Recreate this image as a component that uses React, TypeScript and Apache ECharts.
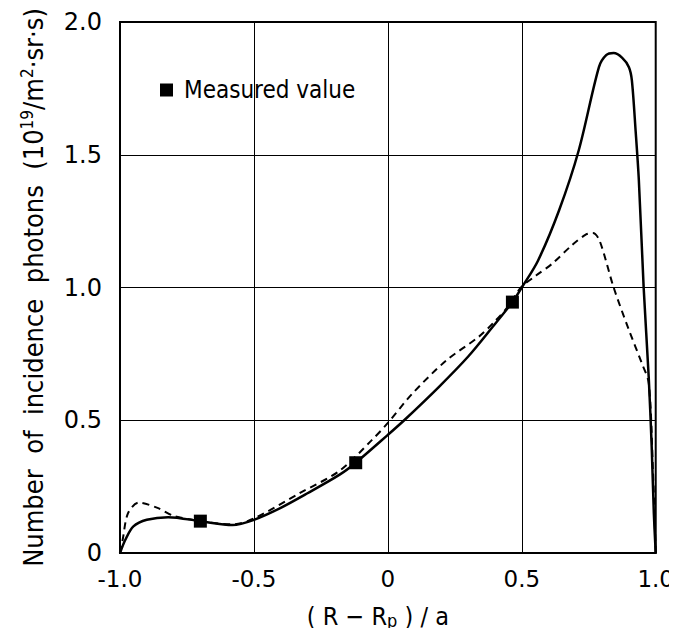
import React, { useEffect, useRef } from "react";
import * as echarts from "echarts";

const xTicks = [-1.0, -0.5, 0, 0.5, 1.0];
const yTicks = [0, 0.5, 1.0, 1.5, 2.0];

const solidCurve: [number, number][] = [
  [-1.0, 0.0], [-0.98, 0.05], [-0.95, 0.1], [-0.9, 0.125], [-0.82, 0.135],
  [-0.7, 0.12], [-0.58, 0.105], [-0.5, 0.125], [-0.4, 0.17], [-0.3, 0.225],
  [-0.18, 0.295], [-0.12, 0.34], [0.0, 0.445], [0.061, 0.5], [0.19, 0.625],
  [0.3, 0.74], [0.39, 0.85], [0.465, 0.945], [0.5, 1.0], [0.56, 1.1],
  [0.639, 1.29], [0.713, 1.518], [0.788, 1.83], [0.815, 1.875], [0.843, 1.883],
  [0.875, 1.865], [0.9, 1.83], [0.911, 1.78], [0.925, 1.59], [0.937, 1.405],
  [0.955, 1.0], [0.974, 0.66], [0.985, 0.4], [0.993, 0.15], [1.0, 0.0],
];

const dashedCurve: [number, number][] = [
  [-1.0, 0.0], [-0.99, 0.05], [-0.97, 0.15], [-0.93, 0.19], [-0.86, 0.17],
  [-0.8, 0.14], [-0.7, 0.12], [-0.58, 0.108], [-0.5, 0.13], [-0.33, 0.225],
  [-0.18, 0.31], [-0.06, 0.425], [0.0, 0.49], [0.091, 0.6], [0.218, 0.725],
  [0.34, 0.815], [0.397, 0.87], [0.45, 0.93], [0.497, 1.0], [0.553, 1.045],
  [0.614, 1.09], [0.688, 1.16], [0.74, 1.2], [0.765, 1.205], [0.79, 1.178],
  [0.843, 1.0], [0.9, 0.84], [0.948, 0.715], [0.974, 0.64], [0.99, 0.3], [1.0, 0.0],
];

const measured: [number, number][] = [
  [-0.7, 0.12],
  [-0.12, 0.34],
  [0.465, 0.945],
];

const condensed = "'Liberation Sans Narrow', 'DejaVu Sans Condensed', 'DejaVu Sans', sans-serif";
const tickFont = "'DejaVu Sans', sans-serif";

function fmt(v: number) {
  if (v === 0) return "0";
  return v.toFixed(1);
}

export default function App() {
  const ref = useRef<HTMLDivElement>(null);
  useEffect(() => {
    if (!ref.current) return;
    const chart = echarts.init(ref.current, null, { renderer: "svg" });
    chart.setOption({
      animation: false,
      backgroundColor: "#ffffff",
      grid: {
        left: 120,
        top: 22,
        right: 20,
        bottom: 83,
        show: true,
        borderColor: "#000",
        borderWidth: 2,
        backgroundColor: "transparent",
      },
      legend: {
        left: 155,
        top: 73,
        data: ["Measured value"],
        icon: "rect",
        itemWidth: 13,
        itemHeight: 13,
        itemGap: 10,
        textStyle: { fontSize: 24, color: "#000", fontFamily: condensed, padding: [0, 0, 0, 6] },
      },
      xAxis: {
        type: "value",
        min: xTicks[0],
        max: xTicks[xTicks.length - 1],
        interval: 0.5,
        axisLine: { show: true, onZero: false, lineStyle: { color: "#000", width: 2 } },
        axisTick: { show: false },
        splitLine: { show: true, lineStyle: { color: "#000", width: 1 } },
        axisLabel: {
          margin: 14,
          fontSize: 23,
          color: "#000",
          fontFamily: tickFont,
          formatter: (v: number) => fmt(v),
        },
        name: "( R − R{sub|p} ) / a",
        nameLocation: "middle",
        nameGap: 50,
        nameTextStyle: {
          fontSize: 25,
          color: "#000",
          fontFamily: condensed,
          lineHeight: 26,
          padding: [0, 20, 0, 0],
          rich: {
            sub: { fontSize: 18, lineHeight: 14, verticalAlign: "bottom", fontFamily: condensed, color: "#000" },
          },
        },
      },
      yAxis: {
        type: "value",
        min: yTicks[0],
        max: yTicks[yTicks.length - 1],
        interval: 0.5,
        axisLine: { show: true, onZero: false, lineStyle: { color: "#000", width: 2 } },
        axisTick: { show: false },
        splitLine: { show: true, lineStyle: { color: "#000", width: 1 } },
        axisLabel: {
          margin: 18,
          fontSize: 24,
          color: "#000",
          fontFamily: tickFont,
          formatter: (v: number) => fmt(v),
        },
        name: "Number  of  incidence  photons  (10{sup|19}/m{sup|2}·sr·s)",
        nameLocation: "middle",
        nameRotate: 90,
        nameGap: 72,
        nameTextStyle: {
          fontSize: 27,
          color: "#000",
          fontFamily: condensed,
          lineHeight: 30,
          rich: {
            sup: { fontSize: 17, lineHeight: 14, verticalAlign: "top", fontFamily: condensed, color: "#000" },
          },
        },
      },
      series: [
        {
          name: "solid",
          type: "line",
          data: solidCurve,
          smooth: 0.3,
          showSymbol: false,
          symbol: "none",
          lineStyle: { color: "#000", width: 2.5 },
          z: 3,
        },
        {
          name: "dashed",
          type: "line",
          data: dashedCurve,
          smooth: 0.3,
          showSymbol: false,
          symbol: "none",
          lineStyle: { color: "#000", width: 2, type: [7, 5] },
          z: 3,
        },
        {
          name: "Measured value",
          type: "scatter",
          data: measured,
          symbol: "rect",
          symbolSize: 13,
          itemStyle: { color: "#000", opacity: 1 },
          z: 5,
        },
      ],
    });
    return () => chart.dispose();
  }, []);
  return <div ref={ref} style={{ width: 677, height: 636, margin: -8 }} />;
}
